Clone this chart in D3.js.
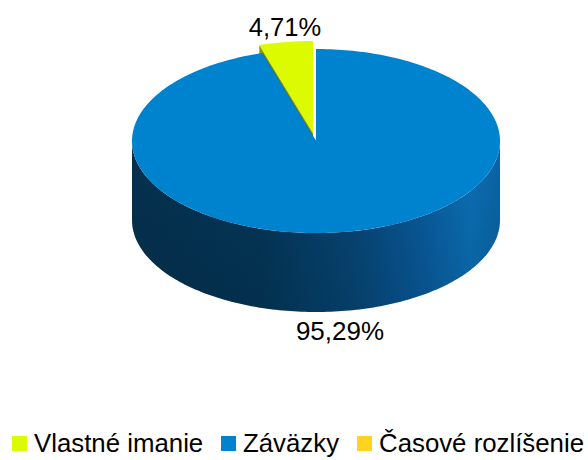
<!DOCTYPE html>
<html><head><meta charset="utf-8">
<script src="https://cdn.jsdelivr.net/npm/d3@7"></script>
<style>html,body{margin:0;padding:0;background:#fff;}svg{display:block;font-family:"Liberation Sans",Arial,sans-serif;}</style>
</head><body>
<svg id="chart" width="588" height="460"></svg>
<script>
const categories = ["Vlastné imanie", "Závazky", "Časové rozlíšenie"];
const legendLabels = ["Vlastné imanie", "Záväzky", "Časové rozlíšenie"];
const values = [4.71, 95.29, 0];
const valueLabels = ["4,71%", "95,29%", ""];
const topColors = ["#dcfb00", "#0083cf", "#ffd320"];
const sideColors = ["#8a9a00", "url(#sideGrad)", "#b89400"];

const W = 588, H = 460;
const cx = 316, cy = 141, rx = 184, ry = 92, depth = 79;
const explode = [{dx:-3, dy:-8}, {dx:0, dy:0}, {dx:0, dy:0}];

const svg = d3.select("#chart");
const defs = svg.append("defs");
const g1 = defs.append("linearGradient").attr("id","sideGrad")
  .attr("gradientUnits","userSpaceOnUse").attr("x1",131).attr("y1",0).attr("x2",500).attr("y2",0);
[[0,"#05314f"],[0.35,"#033658"],[0.6,"#064675"],[0.78,"#09599a"],[0.92,"#0b6fb5"],[1,"#0a64a4"]]
  .forEach(([o,c]) => g1.append("stop").attr("offset",o).attr("stop-color",c));
const g2 = defs.append("linearGradient").attr("id","sideShade")
  .attr("x1",0).attr("y1",0).attr("x2",0).attr("y2",1);
g2.append("stop").attr("offset",0).attr("stop-color","#000").attr("stop-opacity",0);
g2.append("stop").attr("offset",1).attr("stop-color","#000").attr("stop-opacity",0.12);

const pie = d3.pie().sort(null).value(d => d).startAngle(-values[0]/100*2*Math.PI).endAngle(2*Math.PI - values[0]/100*2*Math.PI);
const arcs = pie(values);

// angle measured clockwise from 12 o'clock
const px = (a, o) => cx + o.dx + rx * Math.sin(a);
const py = (a, o, dz=0) => cy + o.dy - ry * Math.cos(a) + dz;

function topPath(a0, a1, o) {
  const p = d3.path();
  const n = Math.max(2, Math.ceil((a1 - a0) / 0.02));
  p.moveTo(cx + o.dx, cy + o.dy);
  for (let i = 0; i <= n; i++) { const a = a0 + (a1 - a0) * i / n; p.lineTo(px(a,o), py(a,o)); }
  p.closePath();
  return p.toString();
}
function sidePath(a0, a1, o) {
  const p = d3.path();
  const n = Math.max(2, Math.ceil((a1 - a0) / 0.02));
  for (let i = 0; i <= n; i++) { const a = a0 + (a1 - a0) * i / n; i ? p.lineTo(px(a,o), py(a,o)) : p.moveTo(px(a,o), py(a,o)); }
  for (let i = n; i >= 0; i--) { const a = a0 + (a1 - a0) * i / n; p.lineTo(px(a,o), py(a,o,depth)); }
  p.closePath();
  return p.toString();
}
function facePath(a, o) {
  const p = d3.path();
  p.moveTo(cx + o.dx, cy + o.dy);
  p.lineTo(px(a,o), py(a,o));
  p.lineTo(px(a,o), py(a,o,depth));
  p.lineTo(cx + o.dx, cy + o.dy + depth);
  p.closePath();
  return p.toString();
}

const layer = svg.append("g");
[0, 1].forEach(i => {
  const d = arcs[i], o = explode[i];
  if (d.value <= 0) return;
  const a0 = d.startAngle, a1 = d.endAngle;
  layer.append("path").attr("d", facePath(a0, o)).attr("fill", i === 0 ? sideColors[0] : "#04304e");
  layer.append("path").attr("d", facePath(a1, o)).attr("fill", i === 0 ? sideColors[0] : "#04304e");
  const s = Math.max(a0, Math.PI/2), e = Math.min(a1, 3*Math.PI/2);
  if (e > s) {
    layer.append("path").attr("d", sidePath(s, e, o)).attr("fill", sideColors[i]);
    layer.append("path").attr("d", sidePath(s, e, o)).attr("fill", "url(#sideShade)");
  }
  layer.append("path").attr("d", topPath(a0, a1, o)).attr("fill", topColors[i]);
});

svg.append("text").attr("x", 285).attr("y", 36).attr("text-anchor","middle")
  .attr("font-size", 25.5).attr("fill","#000").text(valueLabels[0]);
svg.append("text").attr("x", 340).attr("y", 340).attr("text-anchor","middle")
  .attr("font-size", 26).attr("fill","#000").text(valueLabels[1]);

const legendX = [12, 221, 357];
const lg = svg.append("g");
legendLabels.forEach((t, i) => {
  lg.append("rect").attr("x", legendX[i]).attr("y", 436).attr("width", 15).attr("height", 15).attr("fill", topColors[i]);
  lg.append("text").attr("x", legendX[i] + 22).attr("y", 452).attr("font-size", 25.8).attr("fill","#000").text(t);
});
</script>
</body></html>
